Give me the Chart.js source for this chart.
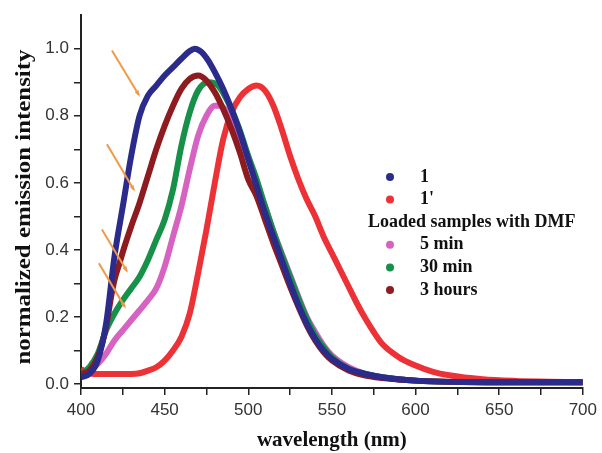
<!DOCTYPE html>
<html>
<head>
<meta charset="utf-8">
<script src="https://cdn.jsdelivr.net/npm/chart.js@4"></script>
<style>
  html, body { margin: 0; padding: 0; background: #fff; }
  #wrap { width: 602px; height: 453px; }
</style>
</head>
<body>
<div id="wrap"><canvas id="myChart" width="602" height="453"></canvas></div>
<script>
// sample 1 (blue)
const wl1 = [400, 405, 410, 415, 420, 425, 430, 435, 440, 445, 450, 455, 460, 465, 468, 472, 476, 480, 485, 490, 495, 500, 505, 510, 515, 520, 525, 530, 535, 540, 545, 550, 560, 570, 580, 600, 650, 700];
const int1 = [0.02, 0.03, 0.07, 0.18, 0.38, 0.53, 0.68, 0.80, 0.86, 0.89, 0.92, 0.945, 0.97, 0.993, 1.0, 0.99, 0.965, 0.93, 0.88, 0.82, 0.75, 0.67, 0.59, 0.51, 0.44, 0.37, 0.30, 0.235, 0.18, 0.135, 0.10, 0.075, 0.045, 0.03, 0.02, 0.01, 0.005, 0.005];

// sample 1' (red)
const wl1p = [400, 403, 408, 420, 430, 435, 440, 445, 450, 455, 460, 465, 470, 475, 480, 485, 490, 495, 500, 505, 510, 515, 520, 525, 530, 535, 540, 545, 550, 555, 560, 565, 570, 575, 580, 590, 600, 610, 620, 640, 660, 680, 700];
const int1p = [0.045, 0.035, 0.03, 0.03, 0.03, 0.032, 0.04, 0.05, 0.07, 0.10, 0.14, 0.21, 0.33, 0.46, 0.60, 0.73, 0.81, 0.855, 0.88, 0.89, 0.875, 0.83, 0.76, 0.68, 0.61, 0.55, 0.50, 0.44, 0.39, 0.34, 0.29, 0.24, 0.195, 0.155, 0.12, 0.08, 0.055, 0.037, 0.026, 0.014, 0.009, 0.007, 0.005];

// loaded with DMF, 5 min (pink)
const wl5min = [400, 405, 410, 415, 420, 425, 430, 435, 440, 445, 450, 455, 460, 465, 470, 475, 480, 483, 487, 490, 495, 500, 505, 510, 515, 520, 525, 530, 535, 540, 545, 550, 560, 570, 580, 600, 650, 700];
const int5min = [0.03, 0.04, 0.06, 0.09, 0.13, 0.16, 0.19, 0.22, 0.25, 0.285, 0.35, 0.44, 0.53, 0.64, 0.74, 0.80, 0.83, 0.83, 0.815, 0.79, 0.74, 0.67, 0.60, 0.53, 0.455, 0.39, 0.325, 0.26, 0.20, 0.155, 0.115, 0.085, 0.05, 0.03, 0.02, 0.01, 0.005, 0.005];

// loaded with DMF, 30 min (green)
const wl30min = [400, 405, 410, 415, 420, 425, 430, 435, 440, 445, 450, 455, 460, 465, 470, 476, 482, 488, 494, 500, 505, 510, 515, 520, 525, 530, 535, 540, 545, 550, 560, 570, 580, 600, 650, 700];
const int30min = [0.03, 0.05, 0.09, 0.16, 0.21, 0.25, 0.285, 0.32, 0.37, 0.43, 0.49, 0.58, 0.71, 0.81, 0.875, 0.90, 0.89, 0.84, 0.77, 0.68, 0.61, 0.53, 0.455, 0.385, 0.32, 0.255, 0.195, 0.145, 0.11, 0.08, 0.045, 0.03, 0.02, 0.01, 0.005, 0.005];

// loaded with DMF, 3 hours (dark red)
const wl3h = [400, 405, 410, 415, 418, 420, 423, 426, 430, 435, 440, 445, 450, 455, 460, 465, 470, 475, 480, 485, 490, 495, 500, 505, 510, 515, 520, 525, 530, 535, 540, 545, 550, 560, 570, 580, 600, 650, 700];
const int3h = [0.03, 0.04, 0.08, 0.17, 0.26, 0.31, 0.36, 0.41, 0.47, 0.54, 0.62, 0.70, 0.77, 0.83, 0.88, 0.91, 0.92, 0.905, 0.87, 0.82, 0.76, 0.69, 0.61, 0.56, 0.49, 0.42, 0.355, 0.29, 0.23, 0.175, 0.13, 0.095, 0.07, 0.04, 0.025, 0.018, 0.01, 0.005, 0.005];

// orange arrows: [x0, y0, x1, y1] in data units
const arrows = [
    [418.5, 0.995, 434.6, 0.862],
    [415.5, 0.715, 431.6, 0.579],
    [412.5, 0.461, 427.4, 0.337],
    [410.7, 0.360, 426.2, 0.230]
];

const xTicks = [400, 425, 450, 475, 500, 525, 550, 575, 600, 625, 650, 675, 700];
const xTickLabels = ['400', '', '450', '', '500', '', '550', '', '600', '', '650', '', '700'];
const yTicks = [0, 0.1, 0.2, 0.3, 0.4, 0.5, 0.6, 0.7, 0.8, 0.9, 1.0];
const yTickLabels = ['0.0', '', '0.2', '', '0.4', '', '0.6', '', '0.8', '', '1.0'];

const seriesNames = ['1', "1'", '5 min', '30 min', '3 hours'];
const legendHeader = 'Loaded samples with DMF';
const yTitle = 'normalized emission intensity';
const colors = ['#2b2b8c', '#ec3236', '#d663c2', '#17904a', '#8e1b1f'];

function toPoints(xs, ys) {
    return xs.map((x, i) => ({ x: x, y: ys[i] }));
}

const arrowPlugin = {
    id: 'arrows',
    afterDatasetsDraw(chart) {
        const ctx = chart.ctx;
        const xs = chart.scales.x, ys = chart.scales.y;
        ctx.save();
        ctx.strokeStyle = '#ee9a48';
        ctx.fillStyle = '#ee9a48';
        ctx.lineWidth = 2;
        arrows.forEach(a => {
            const x0 = xs.getPixelForValue(a[0]), y0 = ys.getPixelForValue(a[1]);
            const x1 = xs.getPixelForValue(a[2]), y1 = ys.getPixelForValue(a[3]);
            ctx.beginPath();
            ctx.moveTo(x0, y0);
            ctx.lineTo(x1, y1);
            ctx.stroke();
            const ang = Math.atan2(y1 - y0, x1 - x0);
            ctx.beginPath();
            ctx.moveTo(x1 + 2 * Math.cos(ang), y1 + 2 * Math.sin(ang));
            ctx.lineTo(x1 - 5 * Math.cos(ang - 0.45), y1 - 5 * Math.sin(ang - 0.45));
            ctx.lineTo(x1 - 5 * Math.cos(ang + 0.45), y1 - 5 * Math.sin(ang + 0.45));
            ctx.closePath();
            ctx.fill();
        });
        ctx.restore();
    }
};

const legendPlugin = {
    id: 'customLegend',
    afterDraw(chart) {
        const ctx = chart.ctx;
        ctx.save();
        ctx.font = 'bold 18px "Liberation Serif", "Times New Roman", serif';
        ctx.fillStyle = '#111';
        ctx.textBaseline = 'middle';
        const rows = [
            { name: seriesNames[0], color: colors[0] },
            { name: seriesNames[1], color: colors[1] },
            { header: legendHeader },
            { name: seriesNames[2], color: colors[2] },
            { name: seriesNames[3], color: colors[3] },
            { name: seriesNames[4], color: colors[4] }
        ];
        let y = 177;
        rows.forEach(r => {
            if (r.header) {
                ctx.fillStyle = '#111';
                ctx.fillText(r.header, 368, y);
            } else {
                ctx.fillStyle = r.color;
                ctx.beginPath();
                ctx.arc(390, y, 4, 0, Math.PI * 2);
                ctx.fill();
                ctx.fillStyle = '#111';
                ctx.fillText(r.name, 420, y);
            }
            y += 22.6;
        });

        // y axis title, stretched along its length like the original
        ctx.font = 'bold 21px "Liberation Serif", "Times New Roman", serif';
        ctx.textAlign = 'center';
        ctx.translate(25, 207);
        ctx.rotate(-Math.PI / 2);
        const w = ctx.measureText(yTitle).width;
        ctx.scale(315 / w, 1);
        ctx.fillText(yTitle, 0, 0);
        ctx.restore();
    }
};

function makeDataset(i, xs, ys, order) {
    return {
        label: seriesNames[i],
        data: toPoints(xs, ys),
        borderColor: colors[i],
        backgroundColor: colors[i],
        borderWidth: 6,
        pointRadius: 0,
        fill: false,
        cubicInterpolationMode: 'monotone',
        order: order
    };
}

const ctx = document.getElementById('myChart').getContext('2d');
const chart = new Chart(ctx, {
    type: 'line',
    data: {
        datasets: [
            makeDataset(0, wl1, int1, 0),
            makeDataset(4, wl3h, int3h, 1),
            makeDataset(3, wl30min, int30min, 2),
            makeDataset(2, wl5min, int5min, 3),
            makeDataset(1, wl1p, int1p, 4)
        ]
    },
    options: {
        responsive: false,
        animation: false,
        layout: { padding: { top: 12, right: 17, left: 0, bottom: 0 } },
        plugins: { legend: { display: false }, tooltip: { enabled: false } },
        scales: {
            x: {
                type: 'linear',
                min: 400,
                max: 700,
                afterFit: s => { s.height = 65; },
                afterBuildTicks: s => { s.ticks = xTicks.map(v => ({ value: v })); },
                grid: { drawOnChartArea: false, drawTicks: true, tickLength: 7, color: '#222', lineWidth: 1.5 },
                border: { display: true, color: '#222', width: 2 },
                ticks: {
                    padding: 5,
                    color: '#333',
                    maxRotation: 0,
                    autoSkip: false,
                    font: { family: '"Liberation Sans", Arial, sans-serif', size: 17 },
                    callback: (v, i) => xTickLabels[i]
                },
                title: {
                    display: true,
                    text: 'wavelength (nm)',
                    color: '#111',
                    padding: { top: 0, bottom: 0 },
                    font: { family: '"Liberation Serif", "Times New Roman", serif', size: 21, weight: 'bold' }
                }
            },
            y: {
                type: 'linear',
                min: -0.012,
                max: 1.1,
                afterFit: s => { s.width = 81; },
                afterBuildTicks: s => { s.ticks = yTicks.map(v => ({ value: v })); },
                grid: { drawOnChartArea: false, drawTicks: true, tickLength: 7, color: '#222', lineWidth: 1.5 },
                border: { display: true, color: '#222', width: 2 },
                ticks: {
                    padding: 5,
                    color: '#333',
                    autoSkip: false,
                    font: { family: '"Liberation Sans", Arial, sans-serif', size: 17 },
                    callback: (v, i) => yTickLabels[i]
                }
            }
        }
    },
    plugins: [arrowPlugin, legendPlugin]
});
</script>
</body>
</html>
